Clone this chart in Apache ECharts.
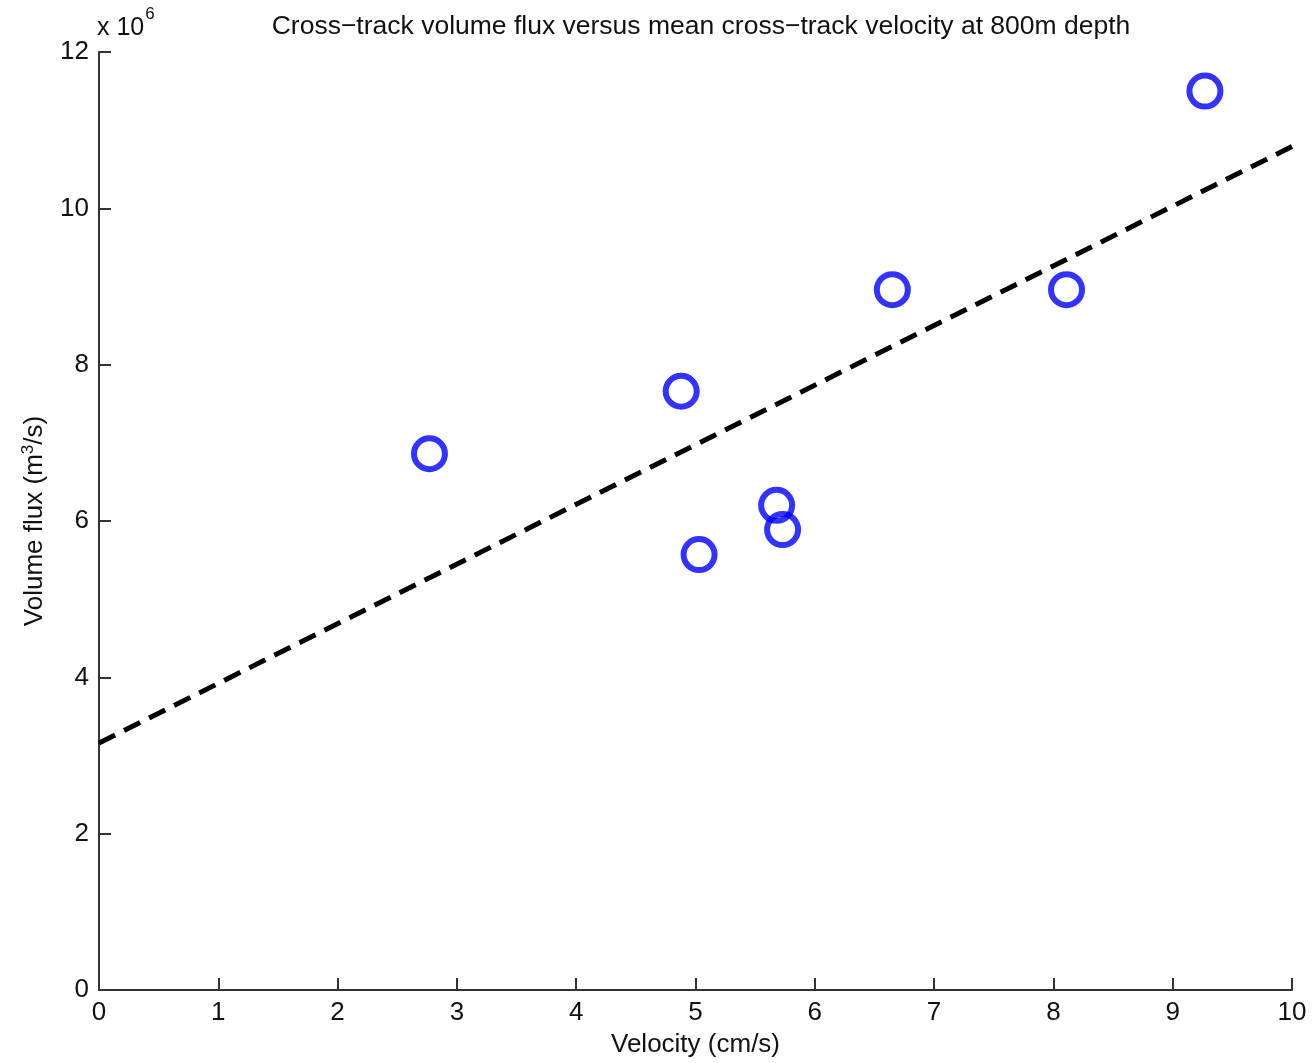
<!DOCTYPE html>
<html>
<head>
<meta charset="utf-8">
<script src="https://cdn.jsdelivr.net/npm/echarts@6/dist/echarts.min.js"></script>
<style>
  html, body { margin: 0; padding: 0; background: #fff; }
  #main { width: 1313px; height: 1063px; }
</style>
</head>
<body>
<div id="main"></div>
<script>
// velocity in cm/s, flux in units of 10^6 m3/s
const velocity = [2.77, 4.88, 5.03, 5.68, 5.73, 6.65, 8.11, 9.27]
const flux = [6.86, 7.66, 5.57, 6.20, 5.89, 8.96, 8.96, 11.50]
// fitted line end points (x, y)
const fitX = [0, 10]
const fitY = [3.16, 10.79]

const font = 'Liberation Sans, Arial, sans-serif'

let points = velocity.map((v, i) => [v, flux[i]])
let fitLine = fitX.map((v, i) => [v, fitY[i]])

let chart = echarts.init(document.getElementById('main'))
let option = {
    backgroundColor: '#fff',
    animation: false,
    title: {
        text: 'Cross\u2212track volume flux versus mean cross\u2212track velocity at 800m depth',
        left: 696,
        textAlign: 'center',
        top: 8,
        textStyle: { fontFamily: font, fontSize: 26.5, fontWeight: 'normal', color: '#111' }
    },
    graphic: [{
        type: 'text',
        left: 97,
        top: 6,
        style: {
            text: '{a|x 10}{s|6}',
            rich: {
                a: { fontFamily: font, fontSize: 25, fill: '#111', padding: [10, 0, 0, 0] },
                s: { fontFamily: font, fontSize: 17, fill: '#111', verticalAlign: 'top', padding: [0, 0, 14, 1] }
            }
        }
    }],
    grid: { left: 99, right: 21, top: 52, bottom: 70 },
    xAxis: {
        type: 'value',
        min: 0, max: 10, interval: 1,
        name: 'Velocity (cm/s)',
        nameLocation: 'middle',
        nameGap: 42,
        nameTextStyle: { fontFamily: font, fontSize: 26, color: '#111' },
        axisLine: { onZero: false, lineStyle: { color: '#333', width: 2 } },
        axisTick: { inside: true, length: 12, lineStyle: { color: '#333', width: 2 } },
        axisLabel: { fontFamily: font, fontSize: 26, color: '#111', margin: 10 },
        splitLine: { show: false }
    },
    yAxis: {
        type: 'value',
        min: 0, max: 12, interval: 2,
        name: '{t|Volume flux (m}{s|3}{t|/s)}',
        nameLocation: 'middle',
        nameRotate: 90,
        nameGap: 50,
        nameTextStyle: {
            rich: {
                t: { fontFamily: font, fontSize: 26, color: '#111' },
                s: { fontFamily: font, fontSize: 17, color: '#111', verticalAlign: 'top', padding: [0, 0, 12, 0] }
            }
        },
        axisLine: { onZero: false, lineStyle: { color: '#333', width: 2 } },
        axisTick: { inside: true, length: 12, lineStyle: { color: '#333', width: 2 } },
        axisLabel: { fontFamily: font, fontSize: 26, color: '#111', margin: 10 },
        splitLine: { show: false }
    },
    series: [
        {
            name: 'fit',
            type: 'line',
            data: fitLine,
            symbol: 'none',
            lineStyle: { color: '#000', width: 5, type: [18, 10] },
            z: 2
        },
        {
            name: 'obs',
            type: 'scatter',
            data: points,
            symbol: 'circle',
            symbolSize: 31,
            itemStyle: { color: 'transparent', borderColor: '#0000ff', borderWidth: 6 },
            z: 3
        }
    ]
}
chart.setOption(option)
</script>
</body>
</html>
